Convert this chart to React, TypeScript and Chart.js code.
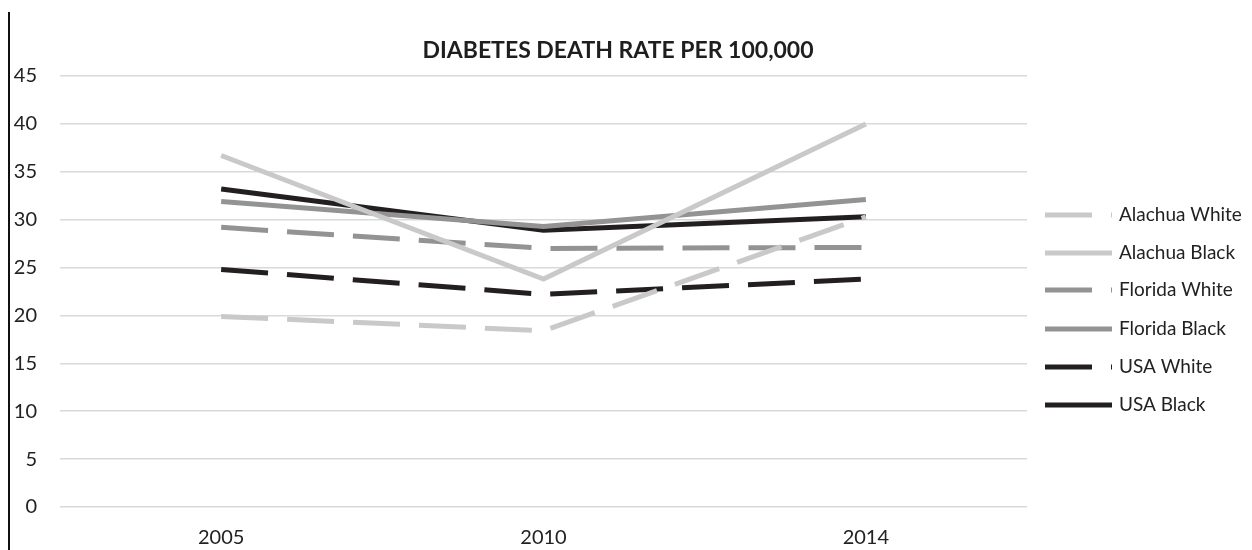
import React, { useEffect, useRef } from "react";
import { Chart, registerables } from "chart.js";

Chart.register(...registerables);

const years = ["2005", "2010", "2014"];
const alachuaWhite = [19.9, 18.4, 30.3];
const alachuaBlack = [36.7, 23.8, 40.0];
const floridaWhite = [29.2, 27.0, 27.1];
const floridaBlack = [31.9, 29.3, 32.1];
const usaWhite = [24.8, 22.2, 23.8];
const usaBlack = [33.2, 28.9, 30.3];

const seriesNames = [
  "Alachua White",
  "Alachua Black",
  "Florida White",
  "Florida Black",
  "USA White",
  "USA Black",
];
const seriesValues = [alachuaWhite, alachuaBlack, floridaWhite, floridaBlack, usaWhite, usaBlack];
const seriesColors = ["#c9c9c9", "#c9c9c9", "#939393", "#939393", "#231f20", "#231f20"];
const seriesDashed = [true, false, true, false, true, false];

const titleText = "DIABETES DEATH RATE PER 100,000";
const yMin = 0;
const yMax = 45;
const yStep = 5;

const FONT = "Lato, 'Open Sans', sans-serif";
const TEXT_COLOR = "#222222";

const decorPlugin = {
  id: "decor",
  afterDraw(chart: any) {
    const ctx = chart.ctx as CanvasRenderingContext2D;
    ctx.save();
    // page border line on left
    ctx.fillStyle = "#111";
    ctx.fillRect(8, 12, 2, 538);
    // title
    ctx.fillStyle = "#1e1e1e";
    ctx.font = `bold 23px ${FONT}`;
    ctx.textAlign = "center";
    ctx.textBaseline = "middle";
    ctx.fillText(titleText, 618, 51);
    // legend
    const ds = chart.data.datasets;
    const rowY = [215, 253, 290, 329, 367, 405];
    ctx.font = `19px ${FONT}`;
    ctx.textAlign = "left";
    for (let i = 0; i < ds.length; i++) {
      const y = rowY[i];
      ctx.beginPath();
      ctx.lineWidth = 5;
      ctx.lineCap = "butt";
      ctx.strokeStyle = ds[i].borderColor;
      ctx.setLineDash(ds[i].borderDash || []);
      ctx.moveTo(1045, y);
      ctx.lineTo(1112, y);
      ctx.stroke();
      ctx.setLineDash([]);
      ctx.fillStyle = TEXT_COLOR;
      ctx.fillText(ds[i].label, 1119, y);
    }
    ctx.restore();
  },
};

export default function App() {
  const canvasRef = useRef<HTMLCanvasElement | null>(null);

  useEffect(() => {
    if (!canvasRef.current) return;
    const chart = new Chart(canvasRef.current, {
      type: "line",
      data: {
        labels: years,
        datasets: seriesNames.map((name, i) => ({
          label: name,
          data: seriesValues[i],
          borderColor: seriesColors[i],
          backgroundColor: seriesColors[i],
          borderWidth: 5,
          borderDash: seriesDashed[i] ? [47, 19] : [],
          borderCapStyle: "butt",
          borderJoinStyle: "miter",
          pointRadius: 0,
          pointHoverRadius: 0,
          tension: 0,
          fill: false,
        })),
      },
      options: {
        animation: false,
        responsive: false,
        maintainAspectRatio: false,
        events: [],
        layout: { padding: { top: 76, right: 225, left: 0, bottom: 0 } },
        plugins: {
          legend: { display: false },
          title: { display: false },
          tooltip: { enabled: false },
        },
        scales: {
          x: {
            offset: true,
            grid: { display: false, drawTicks: false },
            border: { display: false },
            ticks: {
              color: TEXT_COLOR,
              font: { family: FONT, size: 20 },
              padding: 19,
              maxRotation: 0,
            },
            afterFit(scale: any) {
              scale.height = 43;
            },
          },
          y: {
            min: yMin,
            max: yMax,
            ticks: {
              stepSize: yStep,
              color: TEXT_COLOR,
              font: { family: FONT, size: 20 },
              padding: 23,
            },
            grid: { color: "#d9d9d9", lineWidth: 1.5, drawTicks: false },
            border: { display: false },
            afterFit(scale: any) {
              scale.width = 60;
            },
          },
        },
      },
      plugins: [decorPlugin],
    } as any);
    return () => chart.destroy();
  }, []);

  return (
    <div style={{ position: "fixed", left: 0, top: 0, width: 1252, height: 550, background: "#fff" }}>
      <canvas ref={canvasRef} width={1252} height={550} style={{ display: "block" }} />
    </div>
  );
}
